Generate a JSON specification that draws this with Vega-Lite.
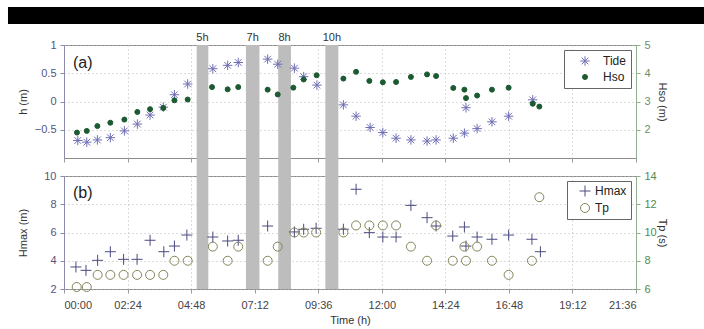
{
  "$schema": "https://vega.github.io/schema/vega-lite/v6.json",
  "padding": {"left": 7, "top": 6, "right": 0, "bottom": 1},
  "background": "white",
  "bounds": "flush",
  "spacing": 18,
  "datasets": {
    "bands": [
      {"start": 5.01, "end": 5.45, "mid": 5.23, "label": "5h"},
      {"start": 6.87, "end": 7.38, "mid": 7.125, "label": "7h"},
      {"start": 8.09, "end": 8.57, "mid": 8.33, "label": "8h"},
      {"start": 9.87, "end": 10.36, "mid": 10.115, "label": "10h"}
    ],
    "tide": [
      {"t": 0.52, "v": -0.69, "series": "Tide"}, {"t": 0.86, "v": -0.72, "series": "Tide"},
      {"t": 1.26, "v": -0.68, "series": "Tide"}, {"t": 1.75, "v": -0.64, "series": "Tide"},
      {"t": 2.28, "v": -0.52, "series": "Tide"}, {"t": 2.77, "v": -0.40, "series": "Tide"},
      {"t": 3.25, "v": -0.24, "series": "Tide"}, {"t": 3.75, "v": -0.10, "series": "Tide"},
      {"t": 4.17, "v": 0.12, "series": "Tide"}, {"t": 4.67, "v": 0.31, "series": "Tide"},
      {"t": 5.62, "v": 0.58, "series": "Tide"}, {"t": 6.18, "v": 0.64, "series": "Tide"},
      {"t": 6.58, "v": 0.69, "series": "Tide"}, {"t": 7.69, "v": 0.75, "series": "Tide"},
      {"t": 8.07, "v": 0.66, "series": "Tide"}, {"t": 8.70, "v": 0.59, "series": "Tide"},
      {"t": 9.05, "v": 0.44, "series": "Tide"}, {"t": 9.55, "v": 0.29, "series": "Tide"},
      {"t": 10.55, "v": -0.06, "series": "Tide"}, {"t": 11.03, "v": -0.26, "series": "Tide"},
      {"t": 11.56, "v": -0.46, "series": "Tide"}, {"t": 12.04, "v": -0.55, "series": "Tide"},
      {"t": 12.54, "v": -0.65, "series": "Tide"}, {"t": 13.10, "v": -0.68, "series": "Tide"},
      {"t": 13.71, "v": -0.70, "series": "Tide"}, {"t": 14.05, "v": -0.68, "series": "Tide"},
      {"t": 14.70, "v": -0.65, "series": "Tide"}, {"t": 15.12, "v": -0.56, "series": "Tide"},
      {"t": 15.18, "v": -0.11, "series": "Tide"}, {"t": 15.60, "v": -0.48, "series": "Tide"},
      {"t": 16.16, "v": -0.36, "series": "Tide"}, {"t": 16.79, "v": -0.26, "series": "Tide"},
      {"t": 17.70, "v": 0.03, "series": "Tide"}
    ],
    "hso": [
      {"t": 0.49, "v": 1.90, "series": "Hso"}, {"t": 0.86, "v": 1.96, "series": "Hso"},
      {"t": 1.26, "v": 2.13, "series": "Hso"}, {"t": 1.75, "v": 2.25, "series": "Hso"},
      {"t": 2.28, "v": 2.36, "series": "Hso"}, {"t": 2.77, "v": 2.63, "series": "Hso"},
      {"t": 3.25, "v": 2.73, "series": "Hso"}, {"t": 3.75, "v": 2.77, "series": "Hso"},
      {"t": 4.17, "v": 3.04, "series": "Hso"}, {"t": 4.67, "v": 3.07, "series": "Hso"},
      {"t": 5.59, "v": 3.51, "series": "Hso"}, {"t": 6.18, "v": 3.43, "series": "Hso"},
      {"t": 6.58, "v": 3.51, "series": "Hso"}, {"t": 7.69, "v": 3.42, "series": "Hso"},
      {"t": 8.07, "v": 3.25, "series": "Hso"}, {"t": 8.66, "v": 3.49, "series": "Hso"},
      {"t": 9.05, "v": 3.78, "series": "Hso"}, {"t": 9.54, "v": 3.93, "series": "Hso"},
      {"t": 10.55, "v": 3.81, "series": "Hso"}, {"t": 11.03, "v": 4.05, "series": "Hso"},
      {"t": 11.53, "v": 3.73, "series": "Hso"}, {"t": 12.04, "v": 3.68, "series": "Hso"},
      {"t": 12.54, "v": 3.69, "series": "Hso"}, {"t": 13.10, "v": 3.87, "series": "Hso"},
      {"t": 13.71, "v": 3.96, "series": "Hso"}, {"t": 14.05, "v": 3.90, "series": "Hso"},
      {"t": 14.70, "v": 3.48, "series": "Hso"}, {"t": 15.12, "v": 3.42, "series": "Hso"},
      {"t": 15.18, "v": 3.12, "series": "Hso"}, {"t": 15.60, "v": 3.21, "series": "Hso"},
      {"t": 16.16, "v": 3.42, "series": "Hso"}, {"t": 16.79, "v": 3.49, "series": "Hso"},
      {"t": 17.70, "v": 2.92, "series": "Hso"}, {"t": 17.95, "v": 2.82, "series": "Hso"}
    ],
    "hmax": [
      {"t": 0.45, "v": 3.56, "series": "Hmax"}, {"t": 0.83, "v": 3.32, "series": "Hmax"},
      {"t": 1.27, "v": 4.03, "series": "Hmax"}, {"t": 1.75, "v": 4.64, "series": "Hmax"},
      {"t": 2.25, "v": 4.10, "series": "Hmax"}, {"t": 2.76, "v": 4.10, "series": "Hmax"},
      {"t": 3.25, "v": 5.45, "series": "Hmax"}, {"t": 3.77, "v": 4.64, "series": "Hmax"},
      {"t": 4.17, "v": 5.04, "series": "Hmax"}, {"t": 4.64, "v": 5.82, "series": "Hmax"},
      {"t": 5.62, "v": 5.68, "series": "Hmax"}, {"t": 6.18, "v": 5.40, "series": "Hmax"},
      {"t": 6.58, "v": 5.45, "series": "Hmax"}, {"t": 7.69, "v": 6.46, "series": "Hmax"},
      {"t": 8.70, "v": 6.04, "series": "Hmax"}, {"t": 9.05, "v": 6.23, "series": "Hmax"},
      {"t": 9.52, "v": 6.30, "series": "Hmax"}, {"t": 10.55, "v": 6.23, "series": "Hmax"},
      {"t": 11.03, "v": 9.06, "series": "Hmax"}, {"t": 11.53, "v": 5.99, "series": "Hmax"},
      {"t": 12.04, "v": 5.68, "series": "Hmax"}, {"t": 12.54, "v": 5.68, "series": "Hmax"},
      {"t": 13.10, "v": 7.92, "series": "Hmax"}, {"t": 13.71, "v": 7.05, "series": "Hmax"},
      {"t": 14.05, "v": 6.46, "series": "Hmax"}, {"t": 14.68, "v": 5.75, "series": "Hmax"},
      {"t": 15.12, "v": 6.39, "series": "Hmax"}, {"t": 15.18, "v": 5.04, "series": "Hmax"},
      {"t": 15.60, "v": 5.68, "series": "Hmax"}, {"t": 16.16, "v": 5.52, "series": "Hmax"},
      {"t": 16.79, "v": 5.82, "series": "Hmax"}, {"t": 17.67, "v": 5.52, "series": "Hmax"},
      {"t": 17.99, "v": 4.64, "series": "Hmax"}
    ],
    "tp": [
      {"t": 0.48, "v": 6.14, "series": "Tp"}, {"t": 0.86, "v": 6.14, "series": "Tp"},
      {"t": 1.27, "v": 7, "series": "Tp"}, {"t": 1.75, "v": 7, "series": "Tp"},
      {"t": 2.25, "v": 7, "series": "Tp"}, {"t": 2.76, "v": 7, "series": "Tp"},
      {"t": 3.25, "v": 7, "series": "Tp"}, {"t": 3.75, "v": 7, "series": "Tp"},
      {"t": 4.17, "v": 8, "series": "Tp"}, {"t": 4.67, "v": 8, "series": "Tp"},
      {"t": 5.62, "v": 9, "series": "Tp"}, {"t": 6.18, "v": 8, "series": "Tp"},
      {"t": 6.58, "v": 9, "series": "Tp"}, {"t": 7.69, "v": 8, "series": "Tp"},
      {"t": 8.07, "v": 9, "series": "Tp"}, {"t": 8.70, "v": 10, "series": "Tp"},
      {"t": 9.05, "v": 10, "series": "Tp"}, {"t": 9.52, "v": 10, "series": "Tp"},
      {"t": 10.55, "v": 10, "series": "Tp"}, {"t": 11.03, "v": 10.5, "series": "Tp"},
      {"t": 11.53, "v": 10.5, "series": "Tp"}, {"t": 12.04, "v": 10.5, "series": "Tp"},
      {"t": 12.54, "v": 10.5, "series": "Tp"}, {"t": 13.10, "v": 9, "series": "Tp"},
      {"t": 13.71, "v": 8, "series": "Tp"}, {"t": 14.05, "v": 10.5, "series": "Tp"},
      {"t": 14.68, "v": 8, "series": "Tp"}, {"t": 15.12, "v": 9, "series": "Tp"},
      {"t": 15.18, "v": 8, "series": "Tp"}, {"t": 15.60, "v": 9, "series": "Tp"},
      {"t": 16.16, "v": 8, "series": "Tp"}, {"t": 16.79, "v": 7, "series": "Tp"},
      {"t": 17.67, "v": 8, "series": "Tp"}, {"t": 17.95, "v": 12.5, "series": "Tp"}
    ]
  },
  "resolve": {"scale": {"stroke": "independent", "fill": "independent", "shape": "independent", "size": "independent"}},
  "vconcat": [
    {
      "width": 572,
      "height": 113,
      "layer": [
        {
          "layer": [
            {
              "data": {"values": [{}]},
              "mark": {"type": "rect", "color": "black"},
              "encoding": {
                "x": {"datum": -2.115, "type": "quantitative", "scale": {"domain": [0, 21.6], "nice": false},
                  "axis": {"values": [0, 2.4, 4.8, 7.2, 9.6, 12, 14.4, 16.8, 19.2, 21.6], "labels": false, "title": "", "grid": true, "tickSize": 4, "domain": false}},
                "x2": {"datum": 24.21},
                "y": {"datum": 1.6726, "type": "quantitative", "scale": {"domain": [-1, 1], "nice": false, "zero": false},
                  "axis": {"values": [-0.5, 0, 0.5, 1], "format": "~g", "title": "h (m)", "grid": true, "labelOverlap": false, "labelColor": "#55557a", "tickColor": "#8a8aaa", "domainColor": "#8a8aaa", "minExtent": 30, "maxExtent": 30, "titlePadding": 6}},
                "y2": {"datum": 1.3717}
              }
            },
            {
              "data": {"name": "bands"},
              "mark": {"type": "rect", "color": "#bdbdbd"},
              "encoding": {
                "x": {"field": "start", "type": "quantitative", "scale": {"domain": [0, 21.6], "nice": false},
                  "axis": {"values": [0, 2.4, 4.8, 7.2, 9.6, 12, 14.4, 16.8, 19.2, 21.6], "labels": false, "title": "", "grid": true, "tickSize": 4, "domain": false}},
                "x2": {"field": "end"},
                "y": {"datum": 1, "type": "quantitative", "scale": {"domain": [-1, 1], "nice": false, "zero": false},
                  "axis": {"values": [-0.5, 0, 0.5, 1], "format": "~g", "title": "h (m)", "grid": true, "labelOverlap": false, "labelColor": "#55557a", "tickColor": "#8a8aaa", "domainColor": "#8a8aaa", "minExtent": 30, "maxExtent": 30, "titlePadding": 6}},
                "y2": {"datum": -1.3186}
              }
            },
            {
              "data": {"name": "bands"},
              "mark": {"type": "text", "fontSize": 11, "color": "#333", "baseline": "middle", "align": "center"},
              "encoding": {
                "x": {"field": "mid", "type": "quantitative", "scale": {"domain": [0, 21.6], "nice": false},
                  "axis": {"values": [0, 2.4, 4.8, 7.2, 9.6, 12, 14.4, 16.8, 19.2, 21.6], "labels": false, "title": "", "grid": true, "tickSize": 4, "domain": false}},
                "y": {"datum": 1.12, "type": "quantitative", "scale": {"domain": [-1, 1], "nice": false, "zero": false},
                  "axis": {"values": [-0.5, 0, 0.5, 1], "format": "~g", "title": "h (m)", "grid": true, "labelOverlap": false, "labelColor": "#55557a", "tickColor": "#8a8aaa", "domainColor": "#8a8aaa", "minExtent": 30, "maxExtent": 30, "titlePadding": 6}},
                "text": {"field": "label"}
              }
            },
            {
              "data": {"name": "tide"},
              "mark": {"type": "point", "strokeWidth": 1, "opacity": 1},
              "encoding": {
                "x": {"field": "t", "type": "quantitative", "scale": {"domain": [0, 21.6], "nice": false},
                  "axis": {"values": [0, 2.4, 4.8, 7.2, 9.6, 12, 14.4, 16.8, 19.2, 21.6], "labels": false, "title": "", "grid": true, "tickSize": 4, "domain": false}},
                "y": {"field": "v", "type": "quantitative", "scale": {"domain": [-1, 1], "nice": false, "zero": false},
                  "axis": {"values": [-0.5, 0, 0.5, 1], "format": "~g", "title": "h (m)", "grid": true, "labelOverlap": false, "labelColor": "#55557a", "tickColor": "#8a8aaa", "domainColor": "#8a8aaa", "minExtent": 30, "maxExtent": 30, "titlePadding": 6}},
                "stroke": {"field": "series", "type": "nominal", "scale": {"domain": ["Tide", "Hso"], "range": ["#6f6fb5", "#1c5a32"]},
                  "legend": {"orient": "top-right", "title": null, "offset": 5, "strokeColor": "#666", "fillColor": "white", "padding": 5, "labelFontSize": 12, "labelColor": "#222", "symbolOffset": 10, "labelOffset": 12, "rowPadding": 3, "symbolStrokeWidth": 1}},
                "fill": {"field": "series", "type": "nominal", "scale": {"domain": ["Tide", "Hso"], "range": ["transparent", "#1c5a32"]}},
                "shape": {"field": "series", "type": "nominal", "scale": {"domain": ["Tide", "Hso"], "range": ["M-1,0L1,0M0,-1L0,1M-0.7,-0.7L0.7,0.7M-0.7,0.7L0.7,-0.7", "circle"]}},
                "size": {"field": "series", "type": "nominal", "scale": {"domain": ["Tide", "Hso"], "range": [90, 25]}}
              }
            },
            {
              "data": {"values": [{"label": "(a)"}]},
              "mark": {"type": "text", "fontSize": 16, "color": "#222", "align": "left", "baseline": "middle"},
              "encoding": {
                "x": {"datum": 0.34, "type": "quantitative", "scale": {"domain": [0, 21.6], "nice": false},
                  "axis": {"values": [0, 2.4, 4.8, 7.2, 9.6, 12, 14.4, 16.8, 19.2, 21.6], "labels": false, "title": "", "grid": true, "tickSize": 4, "domain": false}},
                "y": {"datum": 0.68, "type": "quantitative", "scale": {"domain": [-1, 1], "nice": false, "zero": false},
                  "axis": {"values": [-0.5, 0, 0.5, 1], "format": "~g", "title": "h (m)", "grid": true, "labelOverlap": false, "labelColor": "#55557a", "tickColor": "#8a8aaa", "domainColor": "#8a8aaa", "minExtent": 30, "maxExtent": 30, "titlePadding": 6}},
                "text": {"field": "label"}
              }
            }
          ]
        },
        {
          "data": {"name": "hso"},
          "mark": {"type": "point", "strokeWidth": 1, "opacity": 1},
          "encoding": {
            "x": {"field": "t", "type": "quantitative", "scale": {"domain": [0, 21.6], "nice": false},
              "axis": {"values": [0, 2.4, 4.8, 7.2, 9.6, 12, 14.4, 16.8, 19.2, 21.6], "labels": false, "title": "", "grid": true, "tickSize": 4, "domain": false}},
            "y": {"field": "v", "type": "quantitative", "scale": {"domain": [1, 5], "nice": false, "zero": false},
              "axis": {"orient": "right", "values": [2, 3, 4, 5], "title": "Hso (m)", "grid": false, "labelOverlap": false, "labelColor": "#6a8f6a", "tickColor": "#8fb08f", "domainColor": "#8fb08f", "minExtent": 18, "maxExtent": 18, "titlePadding": 2}},
            "stroke": {"field": "series", "type": "nominal", "scale": {"domain": ["Tide", "Hso"], "range": ["#6f6fb5", "#1c5a32"]}},
            "fill": {"field": "series", "type": "nominal", "scale": {"domain": ["Tide", "Hso"], "range": ["transparent", "#1c5a32"]}},
            "shape": {"field": "series", "type": "nominal", "scale": {"domain": ["Tide", "Hso"], "range": ["M-1,0L1,0M0,-1L0,1M-0.7,-0.7L0.7,0.7M-0.7,0.7L0.7,-0.7", "circle"]}},
            "size": {"field": "series", "type": "nominal", "scale": {"domain": ["Tide", "Hso"], "range": [90, 25]}}
          }
        }
      ],
      "resolve": {"scale": {"y": "independent"}}
    },
    {
      "width": 572,
      "height": 113,
      "layer": [
        {
          "layer": [
            {
              "data": {"name": "bands"},
              "mark": {"type": "rect", "color": "#bdbdbd"},
              "encoding": {
                "x": {"field": "start", "type": "quantitative", "scale": {"domain": [0, 21.6], "nice": false},
                  "axis": {"values": [0, 2.4, 4.8, 7.2, 9.6, 12, 14.4, 16.8, 19.2, 21.6], "labelExpr": "utcFormat(round(datum.value*3600000), '%H:%M')", "labelOverlap": false, "title": "Time (h)", "grid": true, "tickSize": 4, "labelPadding": 6, "titlePadding": 4, "domain": false}},
                "x2": {"field": "end"},
                "y": {"datum": 10, "type": "quantitative", "scale": {"domain": [2, 10], "nice": false, "zero": false},
                  "axis": {"values": [2, 4, 6, 8, 10], "title": "Hmax (m)", "grid": true, "labelOverlap": false, "labelColor": "#55557a", "tickColor": "#8a8aaa", "domainColor": "#8a8aaa", "minExtent": 30, "maxExtent": 30, "titlePadding": 6}},
                "y2": {"datum": 2}
              }
            },
            {
              "data": {"name": "hmax"},
              "mark": {"type": "point", "strokeWidth": 1, "opacity": 1},
              "encoding": {
                "x": {"field": "t", "type": "quantitative", "scale": {"domain": [0, 21.6], "nice": false},
                  "axis": {"values": [0, 2.4, 4.8, 7.2, 9.6, 12, 14.4, 16.8, 19.2, 21.6], "labelExpr": "utcFormat(round(datum.value*3600000), '%H:%M')", "labelOverlap": false, "title": "Time (h)", "grid": true, "tickSize": 4, "labelPadding": 6, "titlePadding": 4, "domain": false}},
                "y": {"field": "v", "type": "quantitative", "scale": {"domain": [2, 10], "nice": false, "zero": false},
                  "axis": {"values": [2, 4, 6, 8, 10], "title": "Hmax (m)", "grid": true, "labelOverlap": false, "labelColor": "#55557a", "tickColor": "#8a8aaa", "domainColor": "#8a8aaa", "minExtent": 30, "maxExtent": 30, "titlePadding": 6}},
                "stroke": {"field": "series", "type": "nominal", "scale": {"domain": ["Hmax", "Tp"], "range": ["#4b4b80", "#85855a"]},
                  "legend": {"orient": "top-right", "title": null, "offset": 5, "strokeColor": "#666", "fillColor": "white", "padding": 4, "labelFontSize": 12, "labelColor": "#222", "symbolOffset": 8, "labelOffset": 4, "rowPadding": 2, "symbolStrokeWidth": 1}},
                "fill": {"field": "series", "type": "nominal", "scale": {"domain": ["Hmax", "Tp"], "range": ["transparent", "transparent"]}},
                "shape": {"field": "series", "type": "nominal", "scale": {"domain": ["Hmax", "Tp"], "range": ["M-1,0L1,0M0,-1L0,1", "circle"]}},
                "size": {"field": "series", "type": "nominal", "scale": {"domain": ["Hmax", "Tp"], "range": [121, 81]}}
              }
            },
            {
              "data": {"values": [{"label": "(b)"}]},
              "mark": {"type": "text", "fontSize": 16, "color": "#222", "align": "left", "baseline": "middle"},
              "encoding": {
                "x": {"datum": 0.34, "type": "quantitative", "scale": {"domain": [0, 21.6], "nice": false},
                  "axis": {"values": [0, 2.4, 4.8, 7.2, 9.6, 12, 14.4, 16.8, 19.2, 21.6], "labelExpr": "utcFormat(round(datum.value*3600000), '%H:%M')", "labelOverlap": false, "title": "Time (h)", "grid": true, "tickSize": 4, "labelPadding": 6, "titlePadding": 4, "domain": false}},
                "y": {"datum": 8.8, "type": "quantitative", "scale": {"domain": [2, 10], "nice": false, "zero": false},
                  "axis": {"values": [2, 4, 6, 8, 10], "title": "Hmax (m)", "grid": true, "labelOverlap": false, "labelColor": "#55557a", "tickColor": "#8a8aaa", "domainColor": "#8a8aaa", "minExtent": 30, "maxExtent": 30, "titlePadding": 6}},
                "text": {"field": "label"}
              }
            }
          ]
        },
        {
          "data": {"name": "tp"},
          "mark": {"type": "point", "strokeWidth": 1, "opacity": 1},
          "encoding": {
            "x": {"field": "t", "type": "quantitative", "scale": {"domain": [0, 21.6], "nice": false},
              "axis": {"values": [0, 2.4, 4.8, 7.2, 9.6, 12, 14.4, 16.8, 19.2, 21.6], "labelExpr": "utcFormat(round(datum.value*3600000), '%H:%M')", "labelOverlap": false, "title": "Time (h)", "grid": true, "tickSize": 4, "labelPadding": 6, "titlePadding": 4, "domain": false}},
            "y": {"field": "v", "type": "quantitative", "scale": {"domain": [6, 14], "nice": false, "zero": false},
              "axis": {"orient": "right", "values": [6, 8, 10, 12, 14], "title": "Tp (s)", "grid": false, "labelOverlap": false, "labelColor": "#4f8a4f", "tickColor": "#8fb08f", "domainColor": "#8fb08f", "minExtent": 18, "maxExtent": 18, "titlePadding": 2}},
            "stroke": {"field": "series", "type": "nominal", "scale": {"domain": ["Hmax", "Tp"], "range": ["#4b4b80", "#85855a"]}},
            "fill": {"field": "series", "type": "nominal", "scale": {"domain": ["Hmax", "Tp"], "range": ["transparent", "transparent"]}},
            "shape": {"field": "series", "type": "nominal", "scale": {"domain": ["Hmax", "Tp"], "range": ["M-1,0L1,0M0,-1L0,1", "circle"]}},
            "size": {"field": "series", "type": "nominal", "scale": {"domain": ["Hmax", "Tp"], "range": [121, 81]}}
          }
        }
      ],
      "resolve": {"scale": {"y": "independent"}}
    }
  ],
  "config": {
    "font": "Liberation Sans",
    "view": {"stroke": "#8c8c8c", "strokeWidth": 1},
    "axis": {
      "labelFont": "Liberation Sans",
      "labelFontSize": 11,
      "labelColor": "#444",
      "titleFont": "Liberation Sans",
      "titleFontSize": 11,
      "titleFontWeight": "normal",
      "titleColor": "#333",
      "gridColor": "#b8b8b8",
      "gridDash": [1, 3],
      "gridOpacity": 1,
      "tickColor": "#999",
      "domainColor": "#999",
      "tickSize": 4,
      "labelPadding": 4
    },
    "legend": {"labelFont": "Liberation Sans"}
  }
}
